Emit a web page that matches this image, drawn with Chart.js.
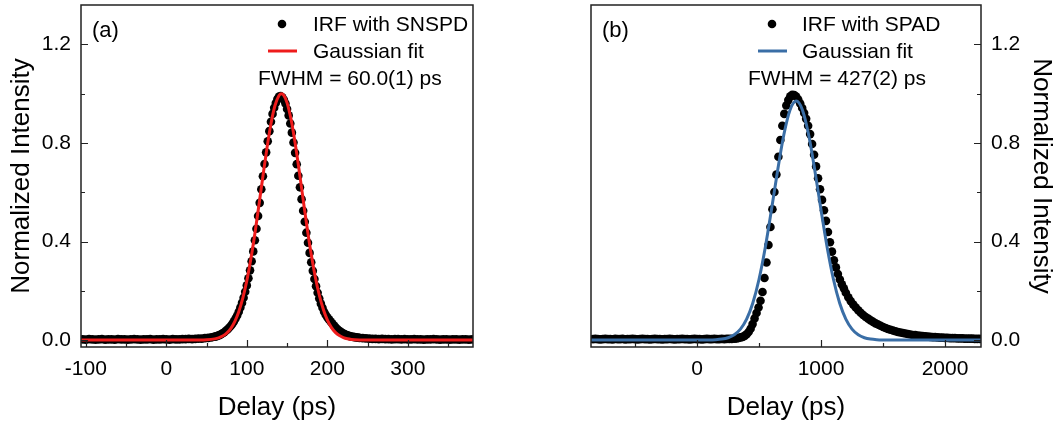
<!DOCTYPE html>
<html>
<head>
<meta charset="utf-8">
<script src="https://cdn.jsdelivr.net/npm/chart.js@4.4.1/dist/chart.umd.min.js"></script>
<style>
  body { margin: 0; background: #fff; }
  #wrap { position: relative; width: 1063px; height: 426px; }
  #wrap canvas { position: absolute; top: 0; }
</style>
</head>
<body>
<div id="wrap">
  <canvas id="chartA" width="530" height="426" style="left:0"></canvas>
  <canvas id="chartB" width="533" height="426" style="left:530px"></canvas>
</div>
<script>
// (a) IRF measured with the SNSPD
var snspdDelay = [-104,-100,-96,-92,-88,-84,-80,-76,-72,-68,-64,-60,-56,-52,-48,-44,-40,-36,-32,-28,-24,-20,-16,-12,-8,-4,0,4,8,12,16,20,24,28,32,36,40,44,48,52,56,
  60,62,64,66,68,70,72,74,76,78,80,82,84,86,88,90,92,94,96,98,100,102,104,106,108,110,112,114,116,118,
  120,122,124,126,128,130,132,134,136,138,140,142,144,146,148,150,152,154,156,158,160,162,164,166,168,170,172,174,176,178,
  180,182,184,186,188,190,192,194,196,198,200,202,204,206,208,210,212,214,216,218,220,222,224,226,228,230,232,234,236,238,240,
  244,248,252,256,260,264,268,272,276,280,284,288,292,296,300,304,308,312,316,320,324,328,332,336,340,344,348,352,356,360,364,368,372,376,380];
var snspdIRF = [0.003,0.002,0.004,0.003,0.002,0.003,0.004,0.002,0.003,0.003,0.002,0.004,0.003,0.003,0.002,0.003,0.004,0.003,0.002,0.003,0.003,0.004,0.002,0.003,0.003,0.004,0.003,0.002,0.004,0.003,0.003,0.004,0.004,0.005,0.004,0.005,
  0.006,0.006,0.008,0.009,0.011,
  0.014,0.015,0.018,0.020,0.024,0.028,0.032,0.038,0.043,0.050,
  0.057,0.066,0.076,0.088,0.100,0.115,0.132,0.151,0.172,0.196,
  0.222,0.251,0.283,0.320,0.360,0.405,0.452,0.504,0.557,0.612,
  0.665,0.715,0.762,0.807,0.848,0.886,0.918,0.943,0.962,0.978,
  0.988,0.990,0.985,0.975,0.960,0.938,0.912,0.879,0.842,0.802,
  0.760,0.714,0.667,0.620,0.572,0.525,0.480,0.436,0.395,0.354,
  0.316,0.281,0.248,0.219,0.192,0.169,0.148,0.131,0.115,0.103,
  0.093,0.084,0.076,0.068,0.060,0.053,0.046,0.040,0.035,0.031,
  0.027,0.024,0.021,0.018,0.016,0.014,0.013,0.012,0.011,0.010,
  0.009,
  0.008,0.007,0.006,
  0.005,0.005,0.004,0.005,0.004,0.004,0.003,0.004,0.004,0.003,0.004,0.003,0.003,0.004,0.003,0.003,0.002,0.003,0.003,0.004,0.003,0.002,0.003,0.003,0.002,0.003,0.003,0.002,0.003,0.003,0.002,0.003];
var snspdFitDelay = [-106,20,40,50,60,65,70,75,80,85,90,95,100,105,110,115,120,125,130,135,140,143,146,150,155,160,165,170,175,180,185,190,195,200,205,210,215,220,225,230,240,250,270,381];
var snspdFit = [0,0,0.0003,0.0013,0.005,0.0092,0.0165,0.0284,0.047,0.075,0.115,0.170,0.241,0.329,0.432,0.547,0.665,0.779,0.878,0.952,0.993,1.0,0.993,0.963,0.895,0.800,0.689,0.570,0.454,0.348,0.257,0.183,0.125,0.082,0.0518,0.0315,0.0185,0.0104,0.0056,0.0029,0.0007,0.0001,0,0];

// (b) IRF measured with the SPAD
var spadDelay = [-840,-820,-800,-780,-760,-740,-720,-700,-680,-660,-640,-620,-600,-580,-560,-540,-520,-500,-480,-460,-440,-420,-400,-380,-360,-340,-320,-300,-280,-260,-240,-220,-200,-180,-160,-140,-120,-100,-80,-60,-40,-20,0,20,40,60,80,100,120,140,160,180,200,220,240,260,280,
  304,320,336,352,368,384,400,416,432,448,464,480,496,512,528,544,560,576,592,608,624,640,656,672,688,704,720,736,752,768,
  784,800,816,832,848,864,880,896,912,928,944,960,976,992,1008,1024,1040,1056,1072,1088,1104,1120,1136,1152,1168,1184,1200,
  1220,1240,1260,1280,1300,1320,1340,1360,1380,1400,1420,1440,1460,1480,1500,1520,1540,
  1560,1580,1600,1620,1640,1660,1680,1700,1720,1740,1760,1780,1800,1820,1840,1860,1880,1900,1920,1940,1960,1980,2000,2020,2040,2060,2080,2100,2120,2140,2160,2180,2200,2220,2240,2260,2280];
var spadIRF = [0.004,0.005,0.004,0.003,0.004,0.005,0.004,0.004,0.003,0.005,0.004,0.004,0.005,0.003,0.004,0.004,0.005,0.004,0.003,0.004,0.005,0.004,0.004,0.003,0.004,0.005,0.004,0.004,0.003,0.004,0.004,0.005,0.004,0.003,0.004,0.004,0.005,0.004,0.004,0.003,0.004,0.005,0.004,0.004,0.003,0.004,0.005,0.004,0.004,0.005,0.004,0.004,0.005,0.004,0.005,0.005,0.005,
  0.006,0.007,0.009,0.011,0.013,0.017,0.024,0.033,0.046,0.065,
  0.088,0.110,0.132,0.160,0.195,0.252,0.315,0.386,0.459,0.531,
  0.601,0.672,0.744,0.812,0.870,0.918,0.952,0.974,0.989,0.996,
  0.995,0.988,0.976,0.960,0.942,0.922,0.898,0.870,0.836,0.796,
  0.752,0.705,0.657,0.612,0.569,0.527,0.484,0.439,0.397,0.359,
  0.324,0.295,0.268,0.246,0.226,0.210,0.192,
  0.174,0.158,0.144,0.132,0.121,0.111,0.102,0.094,0.087,0.080,0.074,0.068,0.063,0.058,0.053,0.049,0.045,
  0.042,0.039,0.036,0.033,0.031,0.029,0.027,0.025,0.023,0.021,
  0.020,0.018,0.017,0.016,0.015,0.014,0.013,0.012,0.012,0.011,
  0.010,0.010,0.009,0.009,0.008,0.008,0.008,0.007,0.007,0.007,
  0.006,0.006,0.006,0.006,0.005,0.005,0.005];
var spadFitDelay = [-855,100,150,200,250,300,350,400,450,500,550,600,650,700,750,800,850,900,950,1000,1050,1100,1150,1200,1250,1300,1350,1400,1450,1500,1600,2290];
var spadFit = [0,0.0006,0.0016,0.0041,0.0097,0.0216,0.0446,0.0851,0.1504,0.2468,0.3749,0.5277,0.6887,0.8332,0.934,0.97,0.934,0.8332,0.6887,0.5277,0.3749,0.2468,0.1504,0.0851,0.0446,0.0216,0.0097,0.0041,0.0016,0.0006,0,0];

// axis ticks
var yTicks = [0, 0.4, 0.8, 1.2];
var yMinor = [0.2, 0.6, 1.0];
var xTicksA = [-100, 0, 100, 200, 300];
var xMinorA = [-50, 50, 150, 250, 350];
var xTicksB = [0, 1000, 2000];
var xMinorB = [-500, 500, 1500];

var FONT = "'Liberation Sans', Arial, sans-serif";
Chart.defaults.font.family = FONT;
Chart.defaults.color = '#000';

function pts(xs, ys) {
  return xs.map(function(x, i) { return {x: x, y: ys[i]}; });
}

// frame, inward ticks, legend and notes
function decor(cfg) {
  return {
    id: 'decor',
    afterDatasetsDraw: function(chart) {
      var ctx = chart.ctx, a = chart.chartArea;
      var xs = chart.scales.x, ys = chart.scales.y;
      ctx.save();
      ctx.strokeStyle = '#222';
      ctx.lineWidth = 1.5;
      ctx.strokeRect(a.left, a.top, a.right - a.left, a.bottom - a.top);

      ctx.lineWidth = 1.2;
      ctx.beginPath();
      function xt(vals, len) {
        vals.forEach(function(v) {
          var p = Math.round(xs.getPixelForValue(v)) + 0.5;
          if (p < a.left || p > a.right) return;
          ctx.moveTo(p, a.bottom); ctx.lineTo(p, a.bottom - len);
        });
      }
      function yt(vals, len) {
        vals.forEach(function(v) {
          var p = Math.round(ys.getPixelForValue(v)) + 0.5;
          if (cfg.yRight) { ctx.moveTo(a.right, p); ctx.lineTo(a.right - len, p); }
          else { ctx.moveTo(a.left, p); ctx.lineTo(a.left + len, p); }
        });
      }
      xt(cfg.xTicks, 7); xt(cfg.xMinor, 4);
      yt(yTicks, 7); yt(yMinor, 4);
      ctx.stroke();

      var ds = chart.data.datasets;
      // legend: scatter marker
      ctx.fillStyle = '#000';
      ctx.beginPath();
      ctx.arc(cfg.dotX, 24, 4.3, 0, Math.PI * 2);
      ctx.fill();
      // legend: fit line
      ctx.strokeStyle = ds[0].borderColor;
      ctx.lineWidth = 3;
      ctx.beginPath();
      ctx.moveTo(cfg.lineX, 51); ctx.lineTo(cfg.lineX + 29, 51);
      ctx.stroke();

      ctx.fillStyle = '#000';
      ctx.textBaseline = 'alphabetic';
      ctx.textAlign = 'left';
      ctx.font = '21px ' + FONT;
      ctx.fillText(ds[1].label, cfg.textX, 31);
      ctx.fillText(ds[0].label, cfg.textX, 58);
      ctx.fillText(cfg.note, cfg.noteX, 85);
      ctx.font = '22px ' + FONT;
      ctx.fillText(cfg.panel, cfg.panelX, 37);
      ctx.restore();
    }
  };
}

function makeChart(id, cfg) {
  return new Chart(document.getElementById(id), {
    type: 'scatter',
    data: {
      datasets: [{
        label: 'Gaussian fit',
        data: pts(cfg.fitX, cfg.fitY),
        showLine: true,
        borderColor: cfg.color,
        borderWidth: 3,
        pointRadius: 0,
        cubicInterpolationMode: 'monotone',
        order: 0
      }, {
        label: cfg.dataLabel,
        data: pts(cfg.dataX, cfg.dataY),
        showLine: false,
        pointRadius: 4.3,
        pointBorderWidth: 0,
        pointBackgroundColor: '#000',
        order: 1
      }]
    },
    options: {
      responsive: false,
      animation: false,
      events: [],
      layout: { padding: cfg.padding },
      plugins: { legend: { display: false }, tooltip: { enabled: false } },
      scales: {
        x: {
          type: 'linear',
          min: cfg.xMin, max: cfg.xMax,
          grid: { display: false, drawTicks: false },
          border: { display: false },
          afterBuildTicks: function(s) { s.ticks = cfg.xTicks.map(function(v) { return {value: v}; }); },
          afterFit: function(s) { s.height = 79; s.paddingLeft = 0; s.paddingRight = 0; },
          ticks: { font: { size: 21 }, padding: 10, maxRotation: 0, callback: function(v) { return String(v); } },
          title: { display: true, text: 'Delay (ps)', font: { size: 26 }, padding: { top: 0, bottom: 3 } }
        },
        y: {
          type: 'linear',
          position: cfg.yRight ? 'right' : 'left',
          min: -0.028, max: 1.36,
          grid: { display: false, drawTicks: false },
          border: { display: false },
          afterBuildTicks: function(s) { s.ticks = yTicks.map(function(v) { return {value: v}; }); },
          afterFit: function(s) { s.width = cfg.yWidth; s.paddingTop = 0; s.paddingBottom = 0; },
          ticks: { font: { size: 21 }, padding: 10, callback: function(v) { return v.toFixed(1); } },
          title: { display: true, text: 'Normalized Intensity', font: { size: 26 }, padding: { top: 6, bottom: 0 } }
        }
      }
    },
    plugins: [decor(cfg)]
  });
}

makeChart('chartA', {
  dataX: snspdDelay, dataY: snspdIRF, fitX: snspdFitDelay, fitY: snspdFit,
  dataLabel: 'IRF with SNSPD', color: '#ee1c1c',
  xMin: -106, xMax: 381, xTicks: xTicksA, xMinor: xMinorA,
  yRight: false, yWidth: 81, padding: { left: 0, right: 57, top: 5, bottom: 0 },
  dotX: 282, lineX: 268, textX: 313, note: 'FWHM = 60.0(1) ps', noteX: 258, panel: '(a)', panelX: 92
});

makeChart('chartB', {
  dataX: spadDelay, dataY: spadIRF, fitX: spadFitDelay, fitY: spadFit,
  dataLabel: 'IRF with SPAD', color: '#3a6ea6',
  xMin: -855, xMax: 2290, xTicks: xTicksB, xMinor: xMinorB,
  yRight: true, yWidth: 82, padding: { left: 61, right: 0, top: 5, bottom: 0 },
  dotX: 242, lineX: 228, textX: 272, note: 'FWHM = 427(2) ps', noteX: 218, panel: '(b)', panelX: 72
});
</script>
</body>
</html>
